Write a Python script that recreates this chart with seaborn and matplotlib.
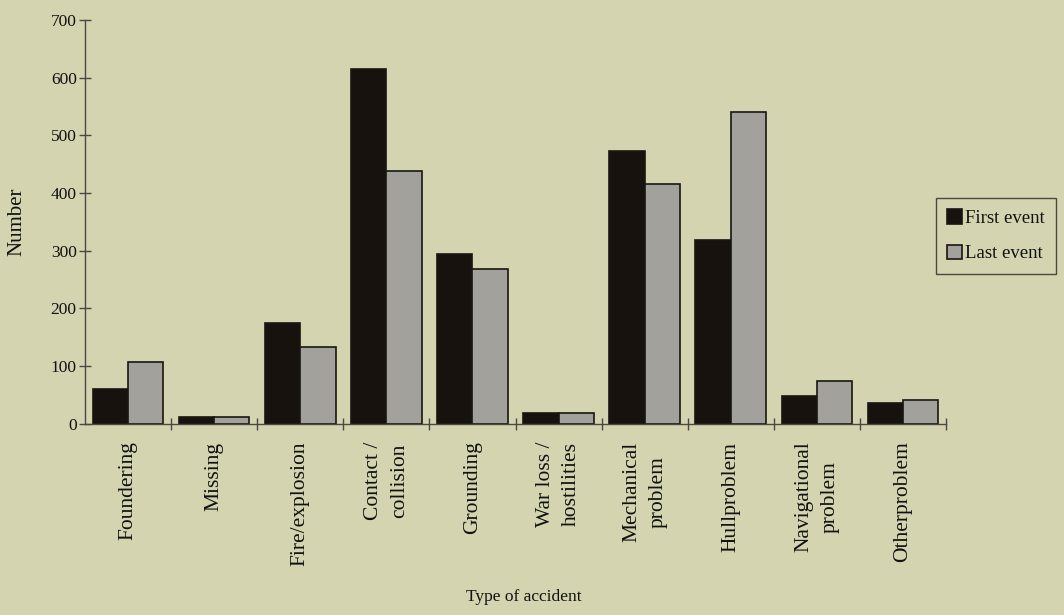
import matplotlib
matplotlib.use("Agg")
import matplotlib.pyplot as plt
import seaborn as sns
import pandas as pd
import numpy as np

# Ship accident counts by type
categories = [
    "Foundering", "Missing", "Fire/explosion", "Contact /\ncollision",
    "Grounding", "War loss /\nhostilities", "Mechanical\nproblem",
    "Hullproblem", "Navigational\nproblem", "Otherproblem",
]
first_event = [60, 12, 175, 615, 294, 19, 472, 318, 48, 35]
last_event = [107, 12, 133, 438, 268, 19, 416, 541, 73, 40]
series_names = ["First event", "Last event"]
y_ticks = [0, 100, 200, 300, 400, 500, 600, 700]

paper = "#d5d4b0"
dark = "#17120e"
grey = "#a2a19b"
axis_col = "#4a4840"

sns.set_theme(style="white")
plt.rcParams["font.family"] = ["Liberation Serif", "DejaVu Serif"]

df = pd.DataFrame({
    "Type": categories * 2,
    "Series": [series_names[0]] * len(categories) + [series_names[1]] * len(categories),
    "Number": first_event + last_event,
})

fig = plt.figure(figsize=(10.64, 6.15), dpi=100, facecolor=paper)
ax = fig.add_axes([85 / 1064, 1 - 423.5 / 615, (946 - 85) / 1064, (423.5 - 20) / 615])
ax.set_facecolor(paper)

sns.barplot(
    data=df, x="Type", y="Number", hue="Series", order=categories,
    hue_order=series_names, palette=[dark, grey], width=0.82,
    edgecolor="#1a1612", linewidth=1.2, saturation=1, ax=ax, legend=True,
)

ax.set_xlim(-0.5, len(categories) - 0.5)
ax.set_ylim(0, 700)
ax.set_yticks(y_ticks)
ax.set_yticklabels([str(v) for v in y_ticks], fontsize=12.5, color="#111")

for side in ["top", "right"]:
    ax.spines[side].set_visible(False)
for side in ["left", "bottom"]:
    ax.spines[side].set_color(axis_col)
    ax.spines[side].set_linewidth(1.0)

ax.tick_params(axis="y", which="major", direction="inout", length=8, width=1.0,
               color=axis_col, left=True, pad=2)
ax.set_xticks(np.arange(len(categories)))
ax.set_xticklabels(categories, rotation=90, fontsize=15.5, color="#111",
                   va="top", ha="center", multialignment="center",
                   linespacing=1.5)
ax.tick_params(axis="x", which="major", length=0, pad=13)
ax.set_xticks(np.arange(len(categories)) + 0.5, minor=True)
ax.tick_params(axis="x", which="minor", direction="inout", length=8, width=1.0,
               color=axis_col, bottom=True)

ax.set_ylabel("Number", fontsize=15, color="#111")
ax.yaxis.set_label_coords(-0.0685, 0.5)
ax.set_xlabel("Type of accident", fontsize=12.5, color="#111")
ax.xaxis.set_label_coords(0.51, -0.41)

handles, labels = ax.get_legend_handles_labels()
ax.legend_.remove()
leg = fig.legend(
    handles, labels, loc="upper left", bbox_to_anchor=(936 / 1064, 1 - 198 / 615),
    bbox_transform=fig.transFigure, borderaxespad=0, fontsize=13.5,
    frameon=True, fancybox=False, shadow=False, handlelength=0.8,
    handleheight=0.8, handletextpad=0.15, labelspacing=0.95,
    borderpad=0.6, facecolor=paper, edgecolor=axis_col, framealpha=1,
)
leg.get_frame().set_linewidth(1.0)
for t in leg.get_texts():
    t.set_color("#111")

fig.savefig("out.png", dpi=100, facecolor=paper)
